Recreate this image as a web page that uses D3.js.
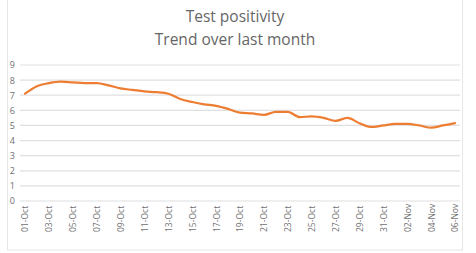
<!DOCTYPE html>
<html>
<head>
<meta charset="utf-8">
<script src="https://cdn.jsdelivr.net/npm/d3@7"></script>
<style>
html,body{margin:0;padding:0;background:#fff;}
svg{display:block;}
</style>
</head>
<body>
<svg id="chart" width="476" height="253"></svg>
<script>
const titleLines = ["Test positivity", "Trend over last month"];
const dates = ["01-Oct","02-Oct","03-Oct","04-Oct","05-Oct","06-Oct","07-Oct","08-Oct","09-Oct","10-Oct",
  "11-Oct","12-Oct","13-Oct","14-Oct","15-Oct","16-Oct","17-Oct","18-Oct","19-Oct","20-Oct",
  "21-Oct","22-Oct","23-Oct","24-Oct","25-Oct","26-Oct","27-Oct","28-Oct","29-Oct","30-Oct",
  "31-Oct","01-Nov","02-Nov","03-Nov","04-Nov","05-Nov","06-Nov"];
const positivity = [7.1,7.6,7.8,7.9,7.85,7.8,7.8,7.65,7.45,7.35,
  7.25,7.2,7.1,6.75,6.55,6.4,6.3,6.1,5.85,5.8,
  5.7,5.9,5.9,5.55,5.6,5.5,5.3,5.5,5.15,4.9,
  5.0,5.1,5.1,5.0,4.85,5.0,5.15];
const yTicks = [0,1,2,3,4,5,6,7,8,9];
const xTickLabels = dates.filter((d,i) => i % 2 === 0);

const svg = d3.select("#chart");
const font = "Open Sans, Liberation Sans, sans-serif";

// frame
svg.append("rect").attr("x",7.5).attr("y",-1).attr("width",455).attr("height",251)
  .attr("fill","none").attr("stroke","#e6e6e6");

const x = d3.scalePoint().domain(dates).range([25, 455]);
const y = d3.scaleLinear().domain([0, 9]).range([201, 65]);

// gridlines
svg.append("g").selectAll("line").data(yTicks).join("line")
  .attr("x1", 20).attr("x2", 460)
  .attr("y1", d => y(d)).attr("y2", d => y(d))
  .attr("stroke", "#e0e0e0").attr("stroke-width", 1.2);

// y axis labels
const yAxis = d3.axisLeft(y).tickValues(yTicks).tickSize(0).tickPadding(0);
svg.append("g").attr("transform","translate(15,0)").call(yAxis)
  .call(g => g.select(".domain").remove())
  .call(g => g.selectAll("text").attr("fill","#6f6f6f").attr("font-size",9).attr("font-family",font));

// x axis labels
const xAxis = d3.axisBottom(x).tickValues(xTickLabels).tickSize(0).tickPadding(0);
svg.append("g").attr("transform","translate(0,207)").call(xAxis)
  .call(g => g.select(".domain").remove())
  .call(g => g.selectAll(".tick text")
    .attr("fill","#6f6f6f").attr("font-size",8.5).attr("font-family",font)
    .attr("transform","rotate(-90)").attr("x", -25).attr("y",0).attr("dy","0.35em")
    .attr("text-anchor","start"));

// line
const line = d3.line().x((d,i) => x(dates[i])).y(d => y(d)).curve(d3.curveMonotoneX);
svg.append("path").datum(positivity).attr("d", line)
  .attr("fill","none").attr("stroke","#ED7D31").attr("stroke-width",2.2)
  .attr("stroke-linejoin","round").attr("stroke-linecap","round");

// title
svg.append("g").selectAll("text").data(titleLines).join("text")
  .attr("x", 235).attr("y", (d,i) => 22 + i*23)
  .attr("text-anchor","middle").attr("fill","#666666")
  .attr("font-size",15.5).attr("font-family",font)
  .text(d => d);
</script>
</body>
</html>
